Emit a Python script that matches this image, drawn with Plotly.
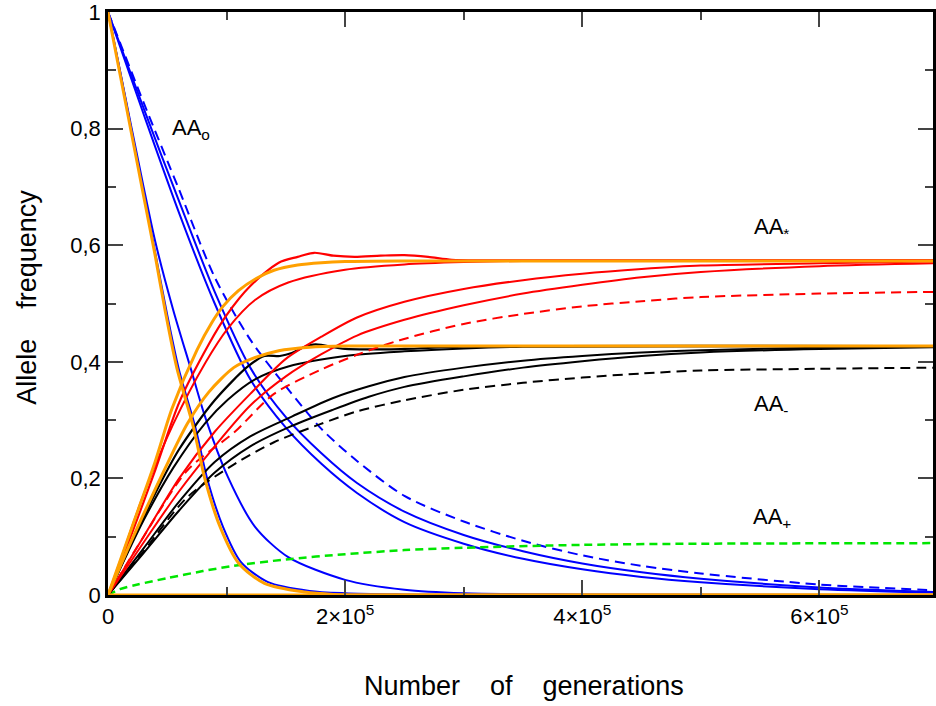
import plotly.graph_objects as go

# ---------------- data (x in units of 1e5 generations) ----------------
# theoretical curves (orange)
th_o_x = [0, 0.1, 0.2, 0.3, 0.4, 0.48, 0.58, 0.72, 0.82, 0.945, 1.1, 1.32, 1.66, 1.9, 2.3, 7.0]
th_o_y = [1, 0.895, 0.79, 0.685, 0.58, 0.49, 0.39, 0.288, 0.197, 0.117, 0.055, 0.02, 0.005, 0.001, 0, 0]
th_star_x = [0, 0.2, 0.4, 0.54, 0.75, 0.875, 0.97, 1.1, 1.25, 1.4, 1.6, 1.8, 2.0, 2.5, 7.0]
th_star_y = [0, 0.115, 0.23, 0.32, 0.42, 0.467, 0.495, 0.522, 0.543, 0.557, 0.566, 0.57, 0.572, 0.573, 0.573]
th_minus_x = [0, 0.18, 0.36, 0.5, 0.67, 0.85, 1.06, 1.21, 1.44, 1.7, 2.0, 7.0]
th_minus_y = [0, 0.085, 0.165, 0.225, 0.294, 0.348, 0.39, 0.405, 0.419, 0.425, 0.427, 0.427]
th_plus_x = [0, 7.0]
th_plus_y = [0, 0]

# AAo simulations (blue)
b0_x = [0, 0.1, 0.2, 0.3, 0.4, 0.5, 0.6, 0.74, 0.84, 0.97, 1.12, 1.35, 1.7, 2.0, 2.5, 3.0, 7.0]
b0_y = [1, 0.9, 0.795, 0.69, 0.585, 0.48, 0.385, 0.285, 0.197, 0.117, 0.057, 0.022, 0.007, 0.003, 0.001, 0, 0]
b1_x = [0, 0.1, 0.2, 0.3, 0.4, 0.55, 0.7, 0.82, 1.01, 1.24, 1.52, 2.0, 2.5, 3.0, 4.0, 7.0]
b1_y = [1, 0.9, 0.8, 0.70, 0.605, 0.489, 0.387, 0.305, 0.203, 0.117, 0.065, 0.026, 0.009, 0.003, 0.001, 0]
b_x = [0, 0.3, 0.6, 0.9, 1.2, 1.5, 1.8, 2.1, 2.5, 3.0, 3.5, 4.0, 4.5, 5.0, 6.0, 7.0]
b2_y = [1, 0.825, 0.655, 0.50, 0.37, 0.287, 0.225, 0.175, 0.125, 0.088, 0.062, 0.044, 0.031, 0.022, 0.010, 0.004]
b3_y = [1, 0.835, 0.675, 0.52, 0.39, 0.305, 0.243, 0.192, 0.143, 0.103, 0.075, 0.054, 0.039, 0.028, 0.013, 0.005]
b4_y = [1, 0.845, 0.695, 0.545, 0.438, 0.358, 0.285, 0.23, 0.17, 0.126, 0.093, 0.068, 0.05, 0.037, 0.018, 0.008]

# AA* simulations (red)
r1_x = [0, 0.2, 0.4, 0.6, 0.85, 1.0, 1.2, 1.44, 1.6, 1.74, 1.9, 2.08, 2.3, 2.5, 2.7, 2.9, 3.2, 7.0]
r1_y = [0, 0.105, 0.215, 0.33, 0.43, 0.48, 0.53, 0.57, 0.58, 0.587, 0.582, 0.58, 0.582, 0.583, 0.58, 0.575, 0.574, 0.574]
r2_x = [0, 0.1, 0.3, 0.55, 0.82, 1.01, 1.24, 1.52, 2.0, 2.5, 3.0, 3.5, 7.0]
r2_y = [0, 0.057, 0.172, 0.293, 0.398, 0.457, 0.506, 0.536, 0.558, 0.567, 0.571, 0.573, 0.574]
r_x = [0, 0.3, 0.6, 0.9, 1.2, 1.5, 1.8, 2.1, 2.5, 3.0, 3.5, 4.0, 4.5, 5.0, 6.0, 7.0]
r3_y = [0, 0.10, 0.20, 0.28, 0.345, 0.405, 0.443, 0.476, 0.503, 0.525, 0.54, 0.551, 0.559, 0.565, 0.569, 0.572]
r4_y = [0, 0.09, 0.178, 0.255, 0.325, 0.375, 0.413, 0.445, 0.472, 0.497, 0.517, 0.532, 0.545, 0.554, 0.564, 0.569]
r5_x = [0, 0.3, 0.67, 1.07, 1.4, 1.79, 2.1, 2.46, 3.0, 3.5, 4.0, 4.5, 5.0, 6.0, 7.0]
r5_y = [0, 0.1, 0.214, 0.28, 0.345, 0.386, 0.412, 0.437, 0.465, 0.482, 0.495, 0.504, 0.511, 0.517, 0.52]

# AA- simulations (black)
k1_x = [0, 0.2, 0.4, 0.6, 0.9, 1.18, 1.32, 1.45, 1.55, 1.65, 1.75, 2.0, 2.5, 3.0, 7.0]
k1_y = [0, 0.09, 0.175, 0.25, 0.334, 0.392, 0.41, 0.41, 0.415, 0.425, 0.43, 0.422, 0.422, 0.426, 0.427]
k2_x = [0, 0.3, 0.55, 0.82, 1.01, 1.24, 1.52, 2.0, 2.5, 3.0, 3.5, 7.0]
k2_y = [0, 0.128, 0.218, 0.295, 0.335, 0.37, 0.392, 0.41, 0.418, 0.423, 0.426, 0.427]
k_x = [0, 0.3, 0.6, 0.9, 1.2, 1.55, 1.9, 2.2, 2.5, 3.0, 3.5, 4.0, 4.5, 5.0, 6.0, 7.0]
k3_y = [0, 0.08, 0.16, 0.228, 0.272, 0.306, 0.338, 0.358, 0.374, 0.39, 0.402, 0.41, 0.416, 0.42, 0.424, 0.426]
k4_y = [0, 0.072, 0.145, 0.21, 0.255, 0.29, 0.318, 0.34, 0.357, 0.375, 0.39, 0.401, 0.41, 0.416, 0.422, 0.425]
k5_x = [0, 0.3, 0.67, 1.07, 1.4, 1.79, 2.1, 2.5, 3.0, 3.5, 4.0, 4.5, 5.0, 6.0, 7.0]
k5_y = [0, 0.075, 0.168, 0.225, 0.262, 0.293, 0.315, 0.334, 0.352, 0.364, 0.373, 0.38, 0.385, 0.388, 0.39]

# AA+ simulation (green)
g_x = [0, 0.1, 0.25, 0.5, 0.8, 1.06, 1.5, 2.0, 2.5, 3.0, 4.0, 5.0, 7.0]
g_y = [0, 0.01, 0.018, 0.029, 0.041, 0.05, 0.061, 0.070, 0.077, 0.081, 0.086, 0.088, 0.089]

x_tick_vals = [0, 2e5, 4e5, 6e5]
x_tick_text = ["0", "2\u00d710<sup>5</sup>", "4\u00d710<sup>5</sup>", "6\u00d710<sup>5</sup>"]
y_tick_vals = [0, 0.2, 0.4, 0.6, 0.8, 1.0]
y_tick_text = ["0", "0,2", "0,4", "0,6", "0,8", "1"]

labels = [("AA<sub>o</sub>", 0.7e5, 0.80), ("AA<sub>*</sub>", 5.6e5, 0.63),
          ("AA<sub>-</sub>", 5.6e5, 0.326), ("AA<sub>+</sub>", 5.6e5, 0.132)]

# ---------------- figure ----------------
SCALE = 1e5
FONT = "Liberation Sans, Arial, Helvetica, sans-serif"
fig = go.Figure()


def add(xs, ys, color, width=2.0, dash=None):
    fig.add_trace(go.Scatter(
        x=[v * SCALE for v in xs], y=ys, mode="lines",
        line=dict(color=color, width=width, dash=dash, shape="spline", smoothing=0.8),
        showlegend=False, hoverinfo="skip"))


DASH = "10px,6px"
BLUE, RED, BLACK, GREEN, ORANGE = "#0000ff", "#ff0000", "#000000", "#00e600", "#ffa000"

add(b0_x, b0_y, BLUE)
add(b1_x, b1_y, BLUE)
add(b_x, b2_y, BLUE)
add(b_x, b3_y, BLUE)
add(b_x, b4_y, BLUE, dash=DASH)
add(g_x, g_y, GREEN, width=2.5, dash="8px,5px")
add(k1_x, k1_y, BLACK, width=2.2)
add(k2_x, k2_y, BLACK)
add(k_x, k3_y, BLACK)
add(k_x, k4_y, BLACK)
add(k5_x, k5_y, BLACK, dash=DASH)
add(r1_x, r1_y, RED, width=2.2)
add(r2_x, r2_y, RED)
add(r_x, r3_y, RED)
add(r_x, r4_y, RED)
add(r5_x, r5_y, RED, dash=DASH)
add(th_o_x, th_o_y, ORANGE, width=3)
add(th_star_x, th_star_y, ORANGE, width=3)
add(th_minus_x, th_minus_y, ORANGE, width=3)
add(th_plus_x, th_plus_y, ORANGE, width=3)

for txt, lx, ly in labels:
    fig.add_annotation(x=lx, y=ly, text=txt, showarrow=False, xref="x", yref="y",
                       font=dict(family=FONT, size=22, color="black"))

fig.add_annotation(text="Number\u00a0\u00a0\u00a0\u00a0of\u00a0\u00a0\u00a0\u00a0generations",
                   xref="paper", yref="paper", x=0.504, y=-0.156, xanchor="center",
                   yanchor="middle", showarrow=False,
                   font=dict(family=FONT, size=27, color="black"))
fig.add_annotation(text="Allele\u00a0\u00a0\u00a0\u00a0frequency", textangle=-90,
                   xref="paper", yref="paper", x=-0.098, y=0.51, xanchor="center",
                   yanchor="middle", showarrow=False,
                   font=dict(family=FONT, size=27, color="black"))

axis_common = dict(showgrid=False, zeroline=False, showline=True, linecolor="black",
                   linewidth=2.5, mirror="ticks", ticks="inside", ticklen=15,
                   tickwidth=1.5, tickcolor="#444", ticklabeloverflow="allow",
                   tickfont=dict(family=FONT, size=22, color="black"))

fig.update_xaxes(range=[0, 6.958e5], tickmode="array", tickvals=x_tick_vals,
                 ticktext=x_tick_text,
                 minor=dict(tickmode="array", tickvals=[1e5, 3e5, 5e5], ticks="inside",
                            ticklen=8, tickwidth=1.5, tickcolor="#444", showgrid=False),
                 **axis_common)
fig.update_yaxes(range=[0, 1], tickmode="array", tickvals=y_tick_vals,
                 ticktext=y_tick_text,
                 minor=dict(tickmode="array", tickvals=[0.1, 0.3, 0.5, 0.7, 0.9],
                            ticks="inside", ticklen=8, tickwidth=1.5, tickcolor="#444",
                            showgrid=False),
                 **axis_common)

fig.update_layout(width=936, height=706, margin=dict(l=108, r=0, t=12, b=111),
                  plot_bgcolor="white", paper_bgcolor="white",
                  font=dict(family=FONT, color="black"))

fig.write_html("out.html")
